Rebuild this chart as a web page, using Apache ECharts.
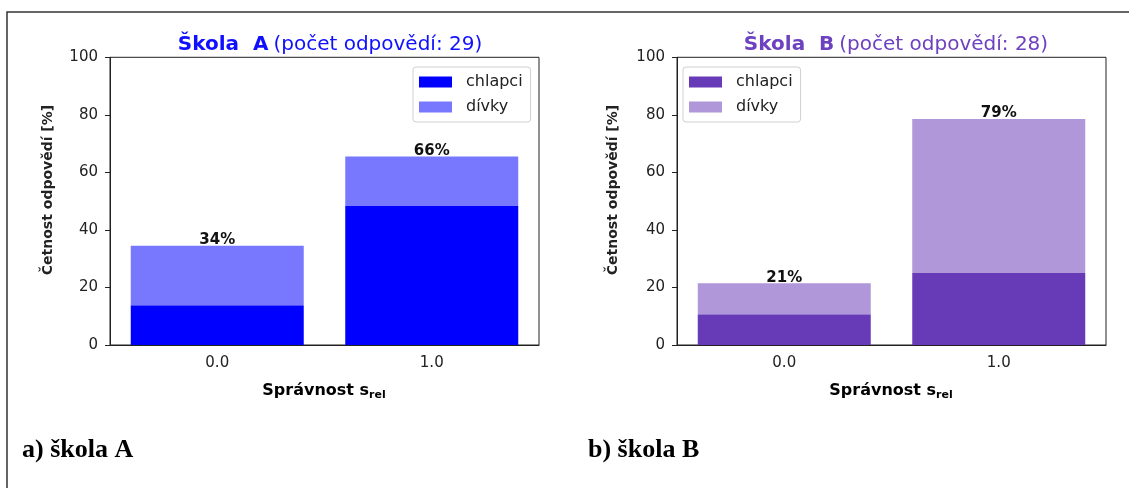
<!DOCTYPE html>
<html>
<head>
<meta charset="utf-8">
<script src="https://cdn.jsdelivr.net/npm/echarts@6/dist/echarts.min.js"></script>
<style>
html,body{margin:0;padding:0;background:#fff;}
#c{width:1129px;height:488px;}
</style>
</head>
<body>
<div id="c"></div>
<script>
const categories = ['0.0', '1.0'];
const boysA = [13.79, 48.28];
const girlsA = [20.69, 17.24];
const boysB = [10.71, 25.0];
const girlsB = [10.72, 53.57];
const yTicks = [0, 20, 40, 60, 80, 100];
const seriesNames = ['chlapci', 'dívky'];
const titleA = ['Škola  A', '(počet odpovědí: 29)'];
const titleB = ['Škola  B', '(počet odpovědí: 28)'];
const captions = ['a) škola A', 'b) škola B'];
const yLabel = 'Četnost odpovědí [%]';
const xLabel = ['Správnost s', 'rel'];

const FONT = 'DejaVu Sans';
const colA = ['#0000ff', '#7878ff'];
const colB = ['#673ab7', '#b097d9'];
const ink = '#222';

const chart = echarts.init(document.getElementById('c'), null, {renderer: 'canvas'});

function totals(b, g) { return b.map((v, i) => v + g[i]); }
const totA = totals(boysA, girlsA);
const totB = totals(boysB, girlsB);

const grids = [
  {left: 110, width: 429, top: 57.3, height: 287.7, show: true, borderColor: ink, borderWidth: 1},
  {left: 677, width: 429, top: 57.3, height: 287.7, show: true, borderColor: ink, borderWidth: 1}
];

function xAx(i) {
  return {
    type: 'category', gridIndex: i, data: categories,
    axisLine: {lineStyle: {color: ink, width: 1}},
    axisTick: {alignWithLabel: true, length: 5, lineStyle: {color: ink}},
    axisLabel: {fontFamily: FONT, fontSize: 15, color: ink, margin: 11},
    splitLine: {show: false}
  };
}
function yAx(i) {
  return {
    type: 'value', gridIndex: i, min: 0, max: 100, interval: 20,
    axisLine: {show: true, lineStyle: {color: ink, width: 1}},
    axisTick: {show: true, length: 5, lineStyle: {color: ink}},
    axisLabel: {fontFamily: FONT, fontSize: 15, color: ink, margin: 12},
    splitLine: {show: false}
  };
}

function labelFor(tot) {
  return {
    show: true, position: 'top', distance: -2,
    fontFamily: FONT, fontSize: 15, fontWeight: 'bold', color: '#111',
    formatter: p => Math.round(tot[p.dataIndex]) + '%'
  };
}

function legendFor(left, cols) {
  return {
    left: left, top: 67, orient: 'vertical',
    icon: 'rect', itemWidth: 33, itemHeight: 11, itemGap: 9,
    padding: [7, 8, 7, 6],
    borderColor: '#d0d0d0', borderWidth: 1, borderRadius: 3,
    backgroundColor: 'rgba(255,255,255,0.8)',
    textStyle: {fontFamily: FONT, fontSize: 16, color: ink, padding: [0, 0, 0, 9]},
    selectedMode: false,
    data: [
      {name: seriesNames[0], itemStyle: {color: cols[0]}},
      {name: seriesNames[1], itemStyle: {color: cols[1]}}
    ]
  };
}

function titleFor(center, parts, color) {
  return {
    left: center, top: 30, textAlign: 'center',
    text: '{b|' + parts[0] + '} {n|' + parts[1] + '}',
    textStyle: {
      rich: {
        b: {fontFamily: FONT, fontSize: 20, fontWeight: 'bold', color: color},
        n: {fontFamily: FONT, fontSize: 20, fontWeight: 'normal', color: color}
      }
    }
  };
}

function yName(x) {
  return {
    type: 'text', x: x, y: 190, rotation: Math.PI / 2,
    style: {text: yLabel, align: 'center', verticalAlign: 'middle',
      font: 'bold 14px "DejaVu Sans"', fill: ink}
  };
}
function xName(x) {
  return {
    type: 'text', x: x, y: 391,
    style: {
      text: '{a|' + xLabel[0] + '}{s|' + xLabel[1] + '}',
      align: 'center', verticalAlign: 'middle',
      rich: {
        a: {fontFamily: FONT, fontSize: 16, fontWeight: 'bold', color: ink, lineHeight: 20},
        s: {fontFamily: FONT, fontSize: 11, fontWeight: 'bold', color: ink, lineHeight: 11, verticalAlign: 'bottom'}
      }
    }
  };
}
function caption(x, t) {
  return {
    type: 'text', x: x, y: 450,
    style: {text: t, align: 'left', verticalAlign: 'middle',
      font: 'bold 26px "Liberation Serif"', fill: '#000'}
  };
}

const option = {
  animation: false,
  backgroundColor: '#fff',
  title: [titleFor(325, titleA, '#1010ff'), titleFor(891, titleB, '#6d41c0')],
  legend: [legendFor(413, colA), legendFor(683, colB)],
  grid: grids,
  xAxis: [xAx(0), xAx(1)],
  yAxis: [yAx(0), yAx(1)],
  series: [
    {name: seriesNames[0], type: 'bar', xAxisIndex: 0, yAxisIndex: 0, stack: 'A', barWidth: 173,
      data: boysA, itemStyle: {color: colA[0]}},
    {name: seriesNames[1], type: 'bar', xAxisIndex: 0, yAxisIndex: 0, stack: 'A', barWidth: 173,
      data: girlsA, itemStyle: {color: colA[1]}, label: labelFor(totA)},
    {name: seriesNames[0], type: 'bar', xAxisIndex: 1, yAxisIndex: 1, stack: 'B', barWidth: 173,
      data: boysB, itemStyle: {color: colB[0]}},
    {name: seriesNames[1], type: 'bar', xAxisIndex: 1, yAxisIndex: 1, stack: 'B', barWidth: 173,
      data: girlsB, itemStyle: {color: colB[1]}, label: labelFor(totB)}
  ],
  graphic: [
    {type: 'rect', shape: {x: 7, y: 12, width: 1200, height: 600},
      style: {fill: null, stroke: '#333', lineWidth: 1.5}, silent: true},
    yName(48), yName(613),
    xName(324), xName(891),
    caption(22, captions[0]), caption(588, captions[1])
  ]
};
chart.setOption(option);
</script>
</body>
</html>
